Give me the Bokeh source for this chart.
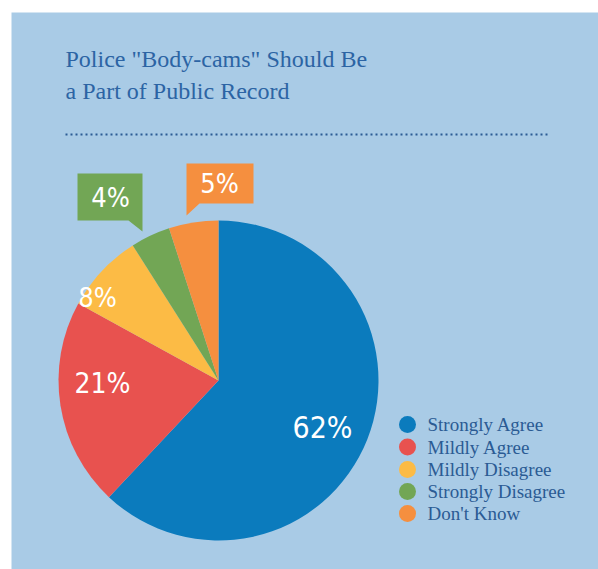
import math
from bokeh.plotting import figure
from bokeh.models import ColumnDataSource
from bokeh.core.properties import value
from bokeh.embed import file_html
from bokeh.resources import INLINE

# ---- data ----
categories = ["Strongly Agree", "Mildly Agree", "Mildly Disagree", "Strongly Disagree", "Don't Know"]
values = [62, 21, 8, 4, 5]
labels = [f"{v}%" for v in values]
title_lines = ['Police "Body-cams" Should Be', "a Part of Public Record"]

# ---- styles / layout ----
colors = ["#0b7bbd", "#e8524f", "#fcbb45", "#72a655", "#f58f3f"]
panel_color = "#a9cbe6"
title_color = "#2c64a4"
legend_text_color = "#2b5b94"

W, H = 598, 569


def X(px):
    return px


def Y(py):
    return H - py


p = figure(width=W, height=H, x_range=(0, W), y_range=(0, H),
           output_backend="svg", toolbar_location=None, min_border=0,
           background_fill_color="white", border_fill_color="white")
p.axis.visible = False
p.grid.visible = False
p.outline_line_color = None

# panel background
p.quad(left=[X(11)], right=[X(598)], top=[Y(12)], bottom=[Y(569)],
       fill_color=panel_color, line_color=None)

# title
p.text(x=[X(65)] * 2, y=[Y(58), Y(90)], text=title_lines,
       text_font=value("Liberation Serif"), text_font_size="24px",
       text_color=title_color, text_baseline="middle", text_align="left")

# dotted rule
p.line(x=[X(65), X(548)], y=[Y(134), Y(134)], line_color="#2b5b94",
       line_width=2, line_dash="2 3")

# pie
cx, cy, r = X(218), Y(380), 160
total = sum(values)
starts, ends = [], []
acc = 0
for v in values:
    starts.append(math.radians(90 - acc / total * 360))
    acc += v
    ends.append(math.radians(90 - acc / total * 360))
src = ColumnDataSource(dict(cat=categories, val=values, start=starts, end=ends, color=colors))
p.wedge(x=cx, y=cy, radius=r, start_angle="start", end_angle="end",
        direction="clock", fill_color="color", line_color=None, source=src)

# callouts for small slices
green_box = [(77, 173), (142, 173), (142, 231), (128, 220), (77, 220)]
orange_box = [(186, 163), (253, 163), (253, 203), (199, 203), (186, 215)]
p.patches(xs=[[X(a) for a, b in green_box], [X(a) for a, b in orange_box]],
          ys=[[Y(b) for a, b in green_box], [Y(b) for a, b in orange_box]],
          fill_color=[colors[3], colors[4]], line_color=None)

# percentage labels
label_px = [(322, 427), (102, 383), (97, 297), (110, 197), (219, 183)]
label_sizes = ["30px", "28px", "27px", "27px", "27px"]
pct_font = value("DejaVu Sans Condensed")
for (lx, ly), t, s in zip(label_px, labels, label_sizes):
    p.text(x=[X(lx)], y=[Y(ly)], text=[t], text_font=pct_font, text_font_size=s,
           text_color="white", text_align="center", text_baseline="middle")

# legend
leg_y = [424, 446.5, 469, 491, 513]
p.scatter(x=[X(407)] * len(categories), y=[Y(v) for v in leg_y], size=17,
          marker="circle", fill_color=colors, line_color=None)
p.text(x=[X(427)] * len(categories), y=[Y(v) for v in leg_y], text=categories,
       text_font=value("Liberation Serif"), text_font_size="19px",
       text_color=legend_text_color, text_baseline="middle", text_align="left")

open("out.html", "w").write(file_html(p, INLINE))
